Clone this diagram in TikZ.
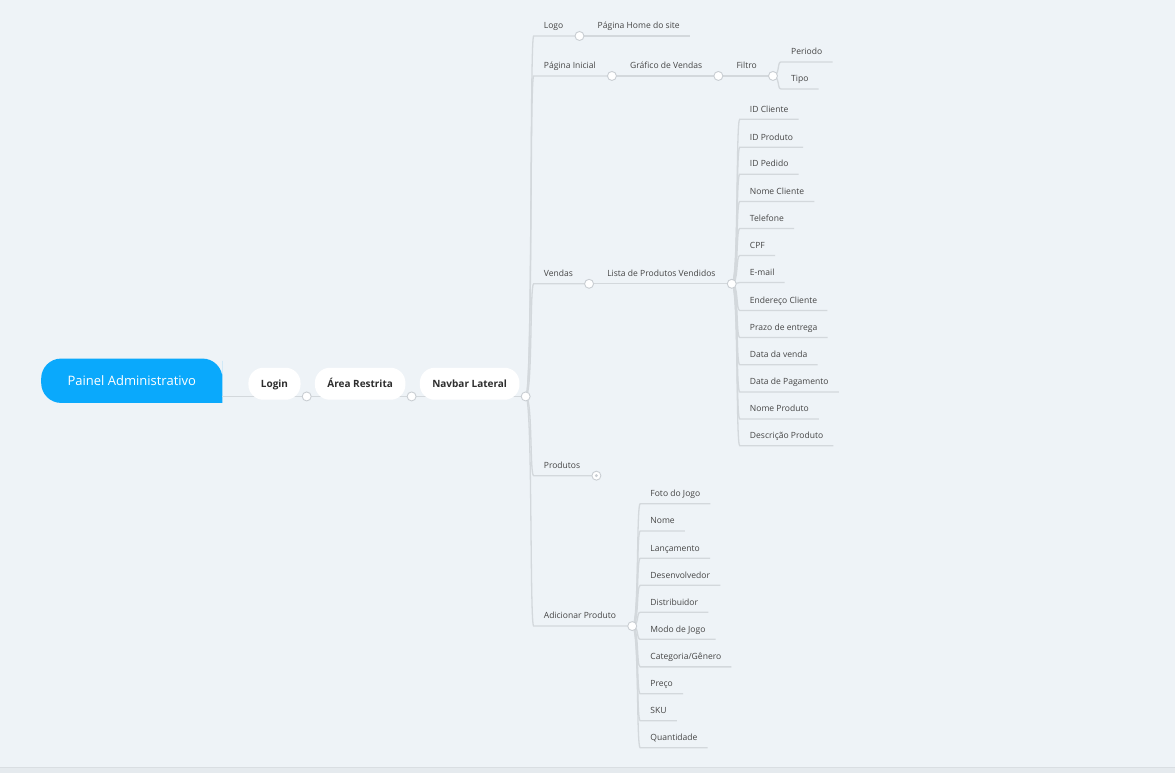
\documentclass[tikz,border=0pt]{standalone}
\usepackage{fontspec}
\setmainfont{Open Sans}
\usetikzlibrary{calc}
\pgfdeclarelayer{background}
\pgfsetlayers{background,main}
\definecolor{bg}{HTML}{EEF3F7}
\definecolor{stripc}{HTML}{E5EAEE}
\definecolor{stripl}{HTML}{D9DEE2}
\definecolor{rootblue}{HTML}{0AA9FC}
\definecolor{linec}{HTML}{D3D8DC}
\definecolor{dotc}{HTML}{C9CED3}
\definecolor{txt}{HTML}{454545}
\definecolor{pilltxt}{HTML}{2E2E2E}
\newcommand\mmbranch[3]{\draw[conn] (#1.center) .. controls +(7,0) and +(-4,0) .. (#2.south west) -- (#3);}
\begin{document}
\begin{tikzpicture}[x=1pt,y=-1pt,
 leaf/.style={anchor=south west, inner xsep=10pt, inner ysep=7pt, text height=7pt, text depth=0pt, font=\fontsize{8.55}{10}\selectfont, text=txt},
 pill/.style={anchor=west, fill=white, rounded corners=15pt, minimum height=32pt, inner xsep=12.5pt, inner ysep=0pt, text height=7.2pt, text depth=0pt, font=\fontsize{10}{11}\selectfont\bfseries, text=pilltxt},
 knob/.style={circle, draw=dotc, fill=white, line width=0.9pt, minimum size=9pt, inner sep=0pt},
 conn/.style={draw=linec, line width=1.3pt},
]
\begin{pgfonlayer}{background}
\fill[bg] (0,0) rectangle (1175,774);
\fill[stripc] (0,768) rectangle (1175,774);
\draw[stripl, line width=0.8pt] (0,768) -- (1175,768);
\end{pgfonlayer}

% root
\node[minimum width=181pt, minimum height=44pt, inner sep=0pt, text height=9.3pt, text depth=-3pt, text=white, font=\fontsize{13}{15}\selectfont] (root) at (131.5,381) {Painel Administrativo};

% pills
\node[pill] (login) at (248,384) {Login};
\node[knob] (c1) at ([shift={(6pt,3.5pt)}]login.south east) {};
\coordinate (t1) at ([xshift=8pt]c1.center);
\node[pill] (area) at (t1 |- login.west) {Área Restrita};
\node[knob] (c2) at ([shift={(6pt,3.5pt)}]area.south east) {};
\coordinate (t2) at ([xshift=8pt]c2.center);
\node[pill] (nav) at (t2 |- login.west) {Navbar Lateral};
\node[knob] (c3) at ([shift={(6pt,3.5pt)}]nav.south east) {};
\coordinate (n0) at ([xshift=8pt]c3.center);

% Logo branch
\node[leaf] (logo) at (n0 |- 0,36) {Logo};
\node[knob] (clogo) at ([xshift=6pt]logo.south east) {};
\node[leaf] (home) at ([xshift=8pt]clogo.center) {Página Home do site};

% Pagina inicial branch
\node[leaf] (ini) at (n0 |- 0,76) {Página Inicial};
\node[knob] (cini) at ([xshift=6pt]ini.south east) {};
\node[leaf] (graf) at ([xshift=8pt]cini.center) {Gráfico de Vendas};
\node[knob] (cgraf) at ([xshift=6pt]graf.south east) {};
\node[leaf] (filtro) at ([xshift=8pt]cgraf.center) {Filtro};
\node[knob] (cfil) at ([xshift=6pt]filtro.south east) {};
\coordinate (f0) at ([xshift=8pt]cfil.center);
\node[leaf] (periodo) at (f0 |- 0,62) {Periodo};
\node[leaf] (tipo) at (f0 |- 0,89) {Tipo};

% Vendas branch
\node[leaf] (vendas) at (n0 |- 0,284) {Vendas};
\node[knob] (cven) at ([xshift=6pt]vendas.south east) {};
\node[leaf] (lista) at ([xshift=8pt]cven.center) {Lista de Produtos Vendidos};
\node[knob] (clis) at ([xshift=6pt]lista.south east) {};
\coordinate (l0) at ([xshift=8pt]clis.center);
\foreach \lbl/\yy [count=\i] in {ID Cliente/119.3, ID Produto/147.3, ID Pedido/174.3, Nome Cliente/201.7, Telefone/228.7, CPF/255.7, E-mail/282.7, Endereço Cliente/310.7, Prazo de entrega/337.7, Data da venda/365, Data de Pagamento/392.3, Nome Produto/419.3, Descrição Produto/446}
  {\node[leaf] (v\i) at (l0 |- 0,\yy) {\lbl};}

% Produtos
\node[leaf] (prod) at (n0 |- 0,476) {Produtos};
\node[knob] (cprod) at ([xshift=6pt]prod.south east) {};
\fill[dotc] (cprod.center) circle (1.6pt);

% Adicionar produto
\node[leaf] (add) at (n0 |- 0,626.5) {Adicionar Produto};
\node[knob] (cadd) at ([xshift=6pt]add.south east) {};
\coordinate (a0) at ([xshift=8pt]cadd.center);
\foreach \lbl/\yy [count=\i] in {Foto do Jogo/504, Nome/531.3, Lançamento/558.7, Desenvolvedor/585.7, Distribuidor/612.7, Modo de Jogo/639.7, {Categoria/Gênero}/667.3, Preço/694.3, SKU/721.3, Quantidade/748.3}
  {\node[leaf] (p\i) at (a0 |- 0,\yy) {\lbl};}

\begin{pgfonlayer}{background}
\fill[rootblue] (root.south east) -- (root.south) [rounded corners=20pt] -- (root.south west) -- (root.north west) -- (root.north east) -- (root.east) [sharp corners] -- cycle;
\draw[conn] ([yshift=6.5pt]root.south east) -- (c1.center);
\draw[conn] (c1.center) -- (c2.center);
\draw[conn] (c2.center) -- (c3.center);
\mmbranch{c3}{logo}{clogo.center}
\mmbranch{clogo}{home}{home.south east}
\mmbranch{c3}{ini}{cini.center}
\mmbranch{cini}{graf}{cgraf.center}
\mmbranch{cgraf}{filtro}{cfil.center}
\mmbranch{cfil}{periodo}{periodo.south east}
\mmbranch{cfil}{tipo}{tipo.south east}
\mmbranch{c3}{vendas}{cven.center}
\mmbranch{cven}{lista}{clis.center}
\foreach \i in {1,...,13} {\mmbranch{clis}{v\i}{v\i.south east}}
\mmbranch{c3}{prod}{cprod.center}
\mmbranch{c3}{add}{cadd.center}
\foreach \i in {1,...,10} {\mmbranch{cadd}{p\i}{p\i.south east}}
\end{pgfonlayer}
\end{tikzpicture}
\end{document}
